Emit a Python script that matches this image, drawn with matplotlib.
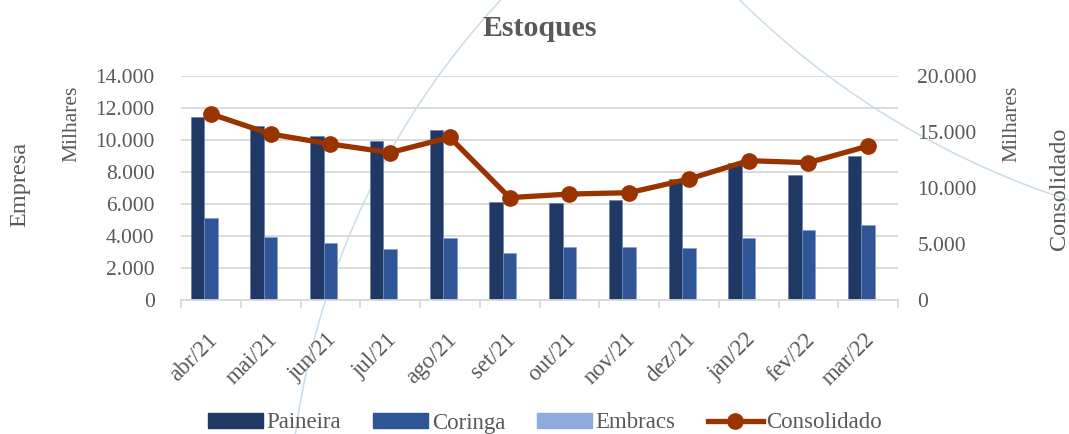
import matplotlib
matplotlib.use("Agg")
import matplotlib.pyplot as plt
import numpy as np
from matplotlib.patches import Circle
from matplotlib.ticker import FuncFormatter, MultipleLocator, FixedLocator
from matplotlib.lines import Line2D
from matplotlib.patches import Patch
from matplotlib.transforms import ScaledTranslation

# ---- data ----
months = ["abr/21", "mai/21", "jun/21", "jul/21", "ago/21", "set/21",
          "out/21", "nov/21", "dez/21", "jan/22", "fev/22", "mar/22"]
paineira = [11460, 10880, 10250, 9940, 10600, 6130, 6070, 6240, 7550, 8590, 7800, 9020]
coringa = [5100, 3940, 3540, 3170, 3850, 2920, 3330, 3300, 3230, 3850, 4350, 4670]
embracs = [0, 0, 0, 0, 0, 0, 0, 0, 0, 0, 0, 0]
consolidado = [16610, 14820, 13930, 13160, 14520, 9140, 9460, 9580, 10800, 12440, 12260, 13750]

C_PAI = "#203864"
C_COR = "#2F5597"
C_EMB = "#8FAADC"
C_CON = "#993300"
GRID = "#D9D9D9"
TXT = "#595959"
FONT = "Liberation Serif"

plt.rcParams["font.family"] = [FONT, "DejaVu Serif"]

W, H = 1069, 434
fig = plt.figure(figsize=(W / 100, H / 100), dpi=100)

# decorative background curves
bg = fig.add_axes([0, 0, 1, 1], zorder=-5)
bg.set_xlim(0, W)
bg.set_ylim(H, 0)
bg.axis("off")
bg.add_patch(Circle((1085, 542), 797, fill=False, ec="#C9DEEA", lw=1.1))
bg.add_patch(Circle((1327, -595), 836, fill=False, ec="#C9DEEA", lw=1.1))

L, R, T, B = 181, 898, 76, 300
ax = fig.add_axes([L / W, 1 - B / H, (R - L) / W, (B - T) / H])
ax.patch.set_alpha(0)

x = np.arange(len(months))
bw = 0.225
ax.bar(x - bw, paineira, bw, color=C_PAI, ec="#5E7AB0", lw=0.4, zorder=2)
ax.bar(x, coringa, bw, color=C_COR, ec="#7F9ACB", lw=0.4, zorder=2)
ax.bar(x + bw, embracs, bw, color=C_EMB, lw=0, zorder=2)

ax.set_xlim(-0.5, len(months) - 0.5)
ax.set_ylim(0, 14000)
ax.yaxis.set_major_locator(MultipleLocator(2000))
fmt = FuncFormatter(lambda v, p: f"{int(v):,}".replace(",", "."))
ax.yaxis.set_major_formatter(fmt)
ax.grid(axis="y", color=GRID, lw=1.3, zorder=0)
ax.set_axisbelow(True)
for s in ["top", "right", "left"]:
    ax.spines[s].set_visible(False)
ax.spines["bottom"].set_color(GRID)
ax.spines["bottom"].set_linewidth(1.3)
ax.tick_params(axis="y", length=0, pad=19, labelsize=15.5, labelcolor=TXT)

ax.set_xticks(x)
ax.set_xticklabels(months, rotation=45, ha="right", rotation_mode="anchor",
                   fontsize=16.5, color=TXT)
ax.tick_params(axis="x", which="major", length=0, pad=21)
shift = ScaledTranslation(-4 / 100, 0, fig.dpi_scale_trans)
for lbl in ax.get_xticklabels():
    lbl.set_transform(lbl.get_transform() + shift)
ax.xaxis.set_minor_locator(FixedLocator(np.arange(-0.5, len(months), 1.0)))
ax.tick_params(axis="x", which="minor", length=6, width=1.3, color=GRID)

ax2 = ax.twinx()
ax2.set_ylim(0, 20000)
ax2.yaxis.set_major_locator(MultipleLocator(5000))
ax2.yaxis.set_major_formatter(fmt)
for s in ["top", "right", "left", "bottom"]:
    ax2.spines[s].set_visible(False)
ax2.tick_params(axis="y", length=0, pad=14, labelsize=15.5, labelcolor=TXT)
ax2.plot(x, consolidado, color=C_CON, lw=3.8, marker="o", ms=11, zorder=5,
         solid_capstyle="round")

# titles / axis labels
fig.text(540 / W, 1 - 28 / H, "Estoques", ha="center", va="center",
         fontsize=21.5, fontweight="bold", color=TXT)
fig.text(20 / W, 1 - 184 / H, "Empresa", rotation=90, ha="center", va="center",
         fontsize=17.5, color=TXT)
fig.text(72 / W, 1 - 124 / H, "Milhares", rotation=90, ha="center", va="center",
         fontsize=15.5, color=TXT)
fig.text(1012 / W, 1 - 124 / H, "Milhares", rotation=90, ha="center", va="center",
         fontsize=15.5, color=TXT)
fig.text(1059 / W, 1 - 189 / H, "Consolidado", rotation=90, ha="center", va="center",
         fontsize=17.5, color=TXT)

handles = [Patch(color=C_PAI), Patch(color=C_COR), Patch(color=C_EMB),
           Line2D([], [], color=C_CON, lw=3.8, marker="o", ms=11)]
labels = ["Paineira", "Coringa", "Embracs", "Consolidado"]
fig.legend(handles, labels, loc="center", bbox_to_anchor=(545 / W, 1 - 423 / H),
           ncol=4, frameon=False, prop={"family": FONT, "size": 16.5}, labelcolor=TXT,
           handlelength=2.4, handleheight=0.6, handletextpad=0.15, columnspacing=1.4)

fig.savefig("out.png", dpi=100)
